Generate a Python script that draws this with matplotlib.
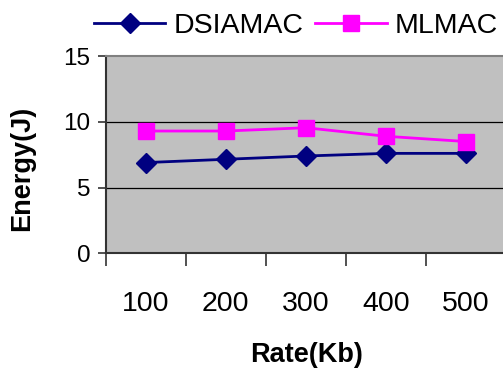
import numpy as np
import matplotlib.pyplot as plt

plt.rcParams['font.family'] = ['Liberation Sans', 'DejaVu Sans']

rates = ['100', '200', '300', '400', '500']
dsiamac = [6.9, 7.15, 7.4, 7.6, 7.6]
mlmac = [9.3, 9.3, 9.55, 8.9, 8.5]

fig = plt.figure(figsize=(5.03, 3.75), dpi=100)
ax = fig.add_axes([0.210, 0.3245, 0.796, 0.526])
ax.set_facecolor('#C0C0C0')

x = np.arange(len(rates))
ax.plot(x, dsiamac, color='#000080', lw=2.0, marker='D', ms=10,
        mec='#000080', mfc='#000080', label='DSIAMAC', zorder=3)
ax.plot(x, mlmac, color='#FF00FF', lw=2.0, marker='s', ms=11.5,
        mec='#FF00FF', mfc='#FF00FF', label='MLMAC', zorder=3)

# horizontal gridlines
for v in (5, 10):
    ax.axhline(v, color='black', lw=0.9, zorder=1)

ax.set_xlim(-0.5, len(rates) - 0.5)
ax.set_ylim(0, 15)
ax.set_yticks([0, 5, 10, 15])
ax.tick_params(axis='y', direction='out', length=6, width=1.2, pad=5,
               labelsize=17.5, color='#333333')

# category labels centred, tick marks on the boundaries
ax.set_xticks(x)
ax.set_xticklabels(rates)
ax.tick_params(axis='x', which='major', length=0, pad=27, labelsize=20.5)
ax.set_xticks(np.arange(len(rates) + 1) - 0.5, minor=True)
ax.tick_params(axis='x', which='minor', direction='out', length=9,
               width=1.2, color='#333333')

ax.spines['left'].set_color('#333333')
ax.spines['left'].set_linewidth(1.5)
ax.spines['bottom'].set_color('#333333')
ax.spines['bottom'].set_linewidth(1.5)
ax.spines['top'].set_color('#808080')
ax.spines['top'].set_linewidth(1.5)
ax.spines['right'].set_visible(False)

fig.text(22 / 503, 1 - 168 / 375, 'Energy(J)', rotation=90, ha='center',
         va='center', fontsize=19.5, fontweight='bold')
fig.text(307 / 503, 1 - 355 / 375, 'Rate(Kb)', ha='center', va='center',
         fontsize=19.5, fontweight='bold')

fig.legend(loc='center', bbox_to_anchor=(296 / 503, 1 - 26 / 375),
           ncol=2, frameon=False, fontsize=20.5, handlelength=2.5,
           handletextpad=0.28, columnspacing=0.42, borderpad=0,
           borderaxespad=0)

fig.savefig('out.png', dpi=100, facecolor='white')
